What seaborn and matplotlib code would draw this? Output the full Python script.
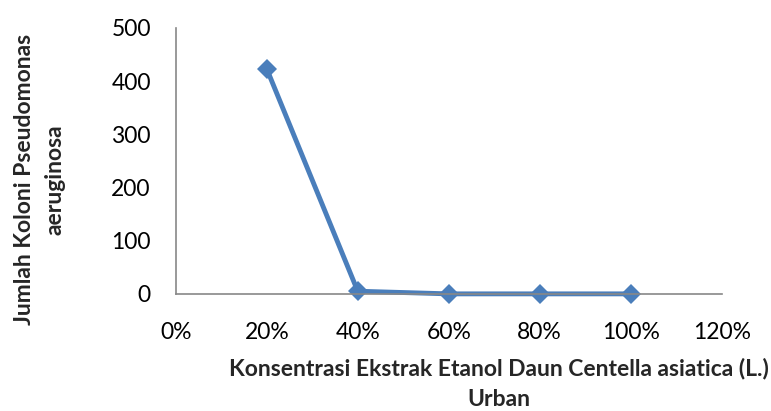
import matplotlib
matplotlib.use("Agg")
import matplotlib.pyplot as plt
import seaborn as sns
import pandas as pd
from matplotlib.ticker import PercentFormatter

concentration = [0.2, 0.4, 0.6, 0.8, 1.0]
colonies = [423, 5, 0, 0, 0]
x_ticks = [0, 0.2, 0.4, 0.6, 0.8, 1.0, 1.2]
y_ticks = [0, 100, 200, 300, 400, 500]

sns.set_theme(style="white")
plt.rcParams['font.family'] = ['Lato', 'DejaVu Sans']

df = pd.DataFrame({"x": concentration, "y": colonies})

fig = plt.figure(figsize=(7.71, 4.11), dpi=100)
ax = fig.add_axes([0.228, 0.285, 0.708, 0.647])
sns.lineplot(data=df, x="x", y="y", ax=ax, color="#4A7EBB", linewidth=3.5,
             marker="D", markersize=10, markeredgewidth=0, clip_on=False)

ax.set_xlim(0, 1.2)
ax.set_ylim(0, 500)
ax.set_xticks(x_ticks)
ax.set_yticks(y_ticks)
ax.xaxis.set_major_formatter(PercentFormatter(1.0, decimals=0))
ax.tick_params(axis="both", labelsize=16.5, length=0, colors="black")
ax.tick_params(axis="x", pad=20)
ax.tick_params(axis="y", pad=18)
for s in ["top", "right"]:
    ax.spines[s].set_visible(False)
for s in ["left", "bottom"]:
    ax.spines[s].set_color("#888888")
    ax.spines[s].set_linewidth(1.2)

ax.set_xlabel("Konsentrasi Ekstrak Etanol Daun Centella asiatica (L.)\nUrban",
              fontsize=16.5, fontweight="bold", linespacing=1.55)
ax.xaxis.set_label_coords(0.592, -0.24)
ax.xaxis.label.set_va("top")
ax.set_ylabel("Jumlah Koloni Pseudomonas\naeruginosa", fontsize=16.5,
              fontweight="bold", linespacing=1.55)
ax.yaxis.set_label_coords(-0.202, 0.43)

fig.savefig("out.png", dpi=100, facecolor="white")
